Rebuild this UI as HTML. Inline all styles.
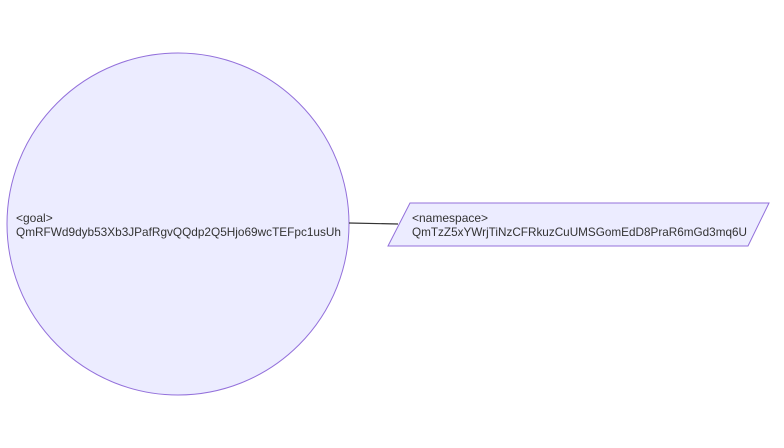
<!DOCTYPE html>
<html><head><meta charset="utf-8"><style>
html,body{margin:0;padding:0;background:#fff;width:784px;height:448px;overflow:hidden}
text{font-family:"Liberation Sans","DejaVu Sans",sans-serif;font-size:12px;fill:#333}
</style></head><body>
<svg width="784" height="448" viewBox="0 0 784 448" xmlns="http://www.w3.org/2000/svg">
<circle cx="178" cy="224" r="171" fill="#ececff" stroke="#9370db" stroke-width="1"/>
<line x1="349" y1="223" x2="398" y2="224" stroke="#333" stroke-width="1.2"/>
<polygon points="410,203 769,203 748,246 388,246" fill="#ececff" stroke="#9370db" stroke-width="1"/>
<text x="16" y="222">&lt;goal&gt;</text>
<text x="16" y="236" textLength="325" lengthAdjust="spacingAndGlyphs">QmRFWd9dyb53Xb3JPafRgvQQdp2Q5Hjo69wcTEFpc1usUh</text>
<text x="412" y="222">&lt;namespace&gt;</text>
<text x="412" y="236" textLength="335" lengthAdjust="spacingAndGlyphs">QmTzZ5xYWrjTiNzCFRkuzCuUMSGomEdD8PraR6mGd3mq6U</text>
</svg>
</body></html>
